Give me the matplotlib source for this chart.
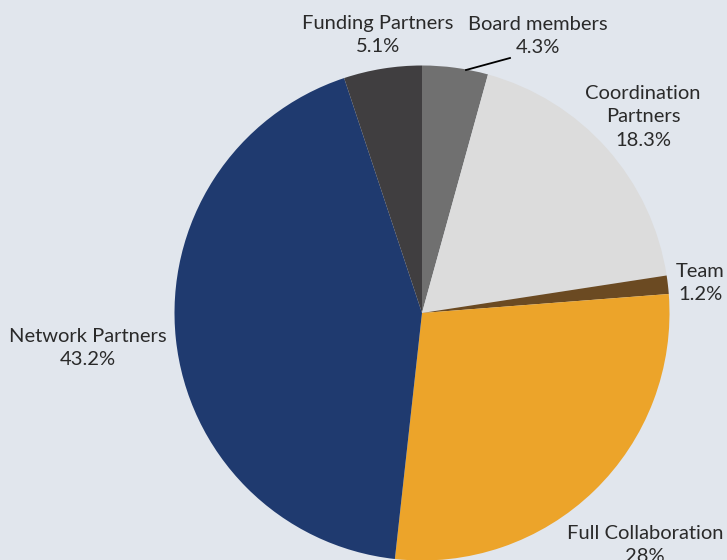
import matplotlib
matplotlib.use("Agg")
import matplotlib.pyplot as plt

labels = ["Board members", "Coordination\nPartners", "Team", "Full Collaboration", "Network Partners", "Funding Partners"]
values = [4.3, 18.3, 1.2, 28.0, 43.2, 5.1]
pct_text = ["4.3%", "18.3%", "1.2%", "28%", "43.2%", "5.1%"]
colors = ["#707070", "#dcdcdc", "#6b4a22", "#eca42a", "#1f3a6f", "#403e40"]

BG = "#e1e6ed"
W, H = 727, 560
cx, cy, R = 422, 313, 247.5

fig = plt.figure(figsize=(W / 100, H / 100), dpi=100, facecolor=BG)
ax = fig.add_axes([(cx - R) / W, (H - cy - R) / H, 2 * R / W, 2 * R / H])
ax.set_facecolor(BG)
ax.pie(values, colors=colors, startangle=90, counterclock=False, radius=1,
       wedgeprops=dict(linewidth=0))
ax.set_xlim(-1, 1)
ax.set_ylim(-1, 1)
ax.set_aspect("equal")
ax.axis("off")

def d(px, py):
    return ((px - cx) / R, (cy - py) / R)

# label centers in pixel layout
pos = [(538, 36), (643, 117), (700, 283), (645, 545), (88, 348), (378, 35)]
for lab, pt, (px, py) in zip(labels, pct_text, pos):
    x, y = d(px, py)
    ax.text(x, y, lab + "\n" + pt, ha="center", va="center", fontsize=14.5,
            family=["Lato", "DejaVu Sans"], color="#2a2a2a", linespacing=1.45,
            clip_on=False)

x0, y0 = d(466, 70)
x1, y1 = d(510, 58)
ax.plot([x0, x1], [y0, y1], color="black", lw=1.3, clip_on=False)

fig.savefig("out.png", dpi=100, facecolor=BG)
